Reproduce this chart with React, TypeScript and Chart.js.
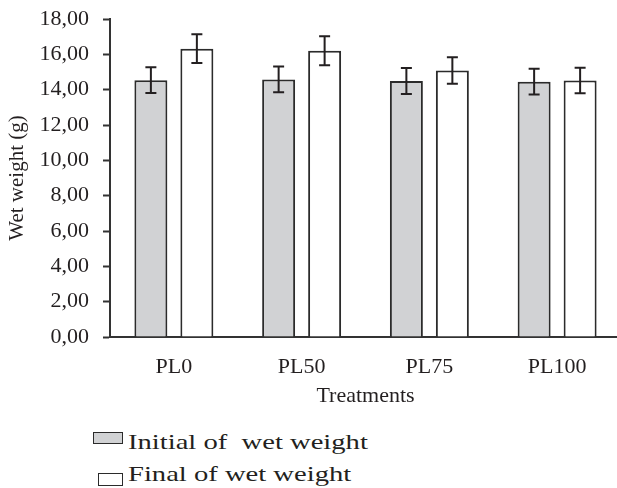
import React, { useEffect, useRef } from "react";
import { Chart, registerables } from "chart.js";

Chart.register(...registerables);

const categories = ["PL0", "PL50", "PL75", "PL100"];
const initialValues = [14.54, 14.58, 14.49, 14.45];
const initialErrors = [0.73, 0.73, 0.73, 0.73];
const finalValues = [16.32, 16.2, 15.09, 14.52];
const finalErrors = [0.81, 0.82, 0.75, 0.72];
const seriesNames = ["Initial of  wet weight", "Final of wet weight"];
const yTickValues = [0, 2, 4, 6, 8, 10, 12, 14, 16, 18];

const FONT = "'Liberation Serif', 'Times New Roman', serif";
const INK = "#231f20";
const GREY = "#d1d2d4";

const errorPlugin = {
  id: "errorBars",
  afterDatasetsDraw(chart: any) {
    const ctx = chart.ctx;
    const yScale = chart.scales.y;
    ctx.save();
    ctx.strokeStyle = INK;
    ctx.lineWidth = 2;
    chart.data.datasets.forEach((ds: any, di: number) => {
      const meta = chart.getDatasetMeta(di);
      meta.data.forEach((bar: any, i: number) => {
        const v = ds.data[i];
        const e = ds.errors[i];
        const x = bar.x;
        const yTop = yScale.getPixelForValue(v + e);
        const yBot = yScale.getPixelForValue(v - e);
        const cap = 5.5;
        ctx.beginPath();
        ctx.moveTo(x, yTop);
        ctx.lineTo(x, yBot);
        ctx.moveTo(x - cap, yTop);
        ctx.lineTo(x + cap, yTop);
        ctx.moveTo(x - cap, yBot);
        ctx.lineTo(x + cap, yBot);
        ctx.stroke();
      });
    });
    ctx.restore();
  },
};

export default function App() {
  const ref = useRef<HTMLCanvasElement>(null);

  useEffect(() => {
    if (!ref.current) return;
    const chart = new Chart(ref.current, {
      type: "bar",
      data: {
        labels: categories,
        datasets: [
          {
            label: seriesNames[0],
            data: initialValues,
            errors: initialErrors,
            backgroundColor: GREY,
            borderColor: "#2b2b2b",
            borderWidth: 2,
            barPercentage: 0.717,
            categoryPercentage: 0.72,
          } as any,
          {
            label: seriesNames[1],
            data: finalValues,
            errors: finalErrors,
            backgroundColor: "#ffffff",
            borderColor: "#2b2b2b",
            borderWidth: 2,
            barPercentage: 0.717,
            categoryPercentage: 0.72,
          } as any,
        ],
      },
      options: {
        animation: false,
        responsive: false,
        maintainAspectRatio: false,
        layout: { padding: { top: 19, right: 4, left: 0, bottom: 0 } },
        plugins: {
          legend: { display: false },
          tooltip: { enabled: false },
        },
        scales: {
          x: {
            afterFit: (s: any) => {
              s.height = 73;
              s.paddingLeft = 0;
              s.paddingRight = 0;
            },
            grid: {
              display: true,
              drawOnChartArea: false,
              drawTicks: false,
            },
            border: { display: true, color: "#333", width: 2 },
            ticks: {
              color: INK,
              font: { family: FONT, size: 22 },
              padding: 17,
            },
            title: {
              display: true,
              text: "Treatments",
              color: INK,
              font: { family: FONT, size: 22 },
              padding: { top: 0, bottom: 1 },
            },
          },
          y: {
            min: 0,
            max: 18,
            afterFit: (s: any) => {
              s.width = 110;
              s.paddingTop = 0;
              s.paddingBottom = 0;
            },
            afterBuildTicks: (s: any) => {
              s.ticks = yTickValues.map((v) => ({ value: v }));
            },
            grid: {
              display: true,
              drawOnChartArea: false,
              drawTicks: true,
              tickLength: 7,
              tickWidth: 2,
              tickColor: "#333",
            },
            border: { display: true, color: "#333", width: 2 },
            ticks: {
              color: INK,
              font: { family: FONT, size: 22 },
              padding: 14,
              callback: (v: any) => Number(v).toFixed(2).replace(".", ","),
            },
            title: {
              display: true,
              text: "Wet weight (g)",
              color: INK,
              font: { family: FONT, size: 21 },
              padding: { top: 5, bottom: 0 },
            },
          },
        },
      } as any,
      plugins: [errorPlugin],
    });
    return () => chart.destroy();
  }, []);

  const box = (fill: string, left: number, top: number, w: number, h: number) => (
    <span
      style={{
        position: "absolute",
        left,
        top,
        width: w,
        height: h,
        boxSizing: "border-box",
        border: "1.5px solid #2b2b2b",
        background: fill,
      }}
    />
  );

  const label = (text: string, left: number, top: number) => (
    <span
      style={{
        position: "absolute",
        left,
        top,
        fontFamily: FONT,
        fontSize: 22,
        lineHeight: "22px",
        color: INK,
        whiteSpace: "pre",
        transform: "scaleX(1.3)",
        transformOrigin: "left center",
      }}
    >
      {text}
    </span>
  );

  return (
    <div
      style={{
        position: "absolute",
        left: 0,
        top: 0,
        width: 617,
        height: 488,
        overflow: "hidden",
        background: "#fff",
      }}
    >
      <canvas ref={ref} width={625} height={410} style={{ position: "absolute", left: 0, top: 0 }} />
      {box(GREY, 93, 432, 30, 12)}
      {label(seriesNames[0], 128, 431)}
      {box("#ffffff", 98, 473, 25, 13)}
      {label(seriesNames[1], 128, 463)}
    </div>
  );
}
